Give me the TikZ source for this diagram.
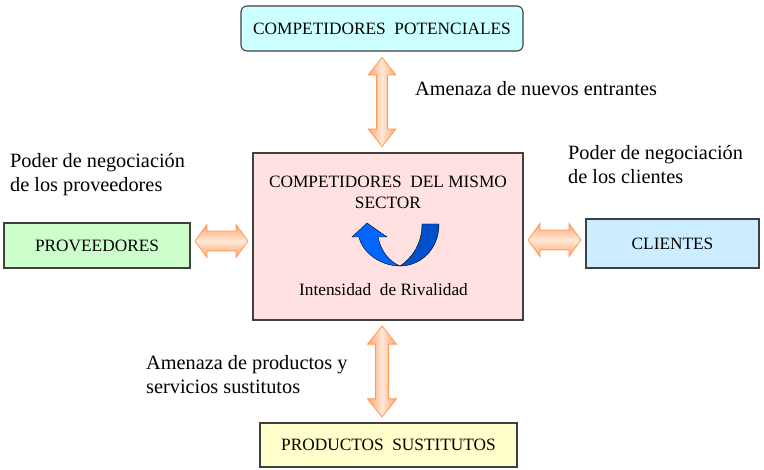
\documentclass[tikz,border=0pt]{standalone}
\usepackage{fontspec}
\setmainfont{Liberation Serif}
\usetikzlibrary{shapes.arrows, calc}
\definecolor{bxborde}{HTML}{404040}
\definecolor{bxcian}{HTML}{CCFFFF}
\definecolor{bxrosa}{HTML}{FFE1E1}
\definecolor{bxverde}{HTML}{CCFFCC}
\definecolor{bxazul}{HTML}{CCECFF}
\definecolor{bxamar}{HTML}{FFFFCC}
\definecolor{flnar}{HTML}{FFA46C}
\definecolor{flclaro}{HTML}{FFE8D8}
\definecolor{flborde}{HTML}{FF9955}
\definecolor{giro}{HTML}{0066FF}
\definecolor{girooscuro}{HTML}{0050CC}

\begin{document}
\begin{tikzpicture}[x=1pt, y=-1pt,
    caja/.style={draw=bxborde, line width=1.1pt, font=\fontsize{17.3}{21}\selectfont, align=center, inner sep=0pt},
    txt/.style={font=\fontsize{17.3}{21}\selectfont, align=center, inner sep=0pt},
    lbl/.style={font=\fontsize{20.3}{24}\selectfont, align=left, inner sep=0pt, anchor=west},
    dflecha/.style={double arrow, draw=flborde, line width=0.8pt, inner xsep=0pt, inner ysep=#1, minimum width=0pt},
    fh/.style={top color=flnar, bottom color=flnar, middle color=flclaro},
    fv/.style={left color=flnar, right color=flnar, middle color=flclaro}]
  \useasboundingbox (0,0) rectangle (764,470);

  % cajas
  \node[caja, fill=bxcian, rounded corners=6pt, minimum width=282pt, minimum height=45pt] (pot) at (382,28.5) {COMPETIDORES~ POTENCIALES};
  \node[caja, fill=bxrosa, minimum width=270pt, minimum height=167pt] (mid) at (388,236.5) {};
  \node[caja, fill=bxverde, minimum width=186pt, minimum height=45pt] (prov) at (97,245.5) {PROVEEDORES};
  \node[caja, fill=bxazul, minimum width=173pt, minimum height=49pt] (cli) at (672.5,243.5) {CLIENTES};
  \node[caja, fill=bxamar, minimum width=257pt, minimum height=44pt] (prod) at (388.5,445) {PRODUCTOS~ SUSTITUTOS};

  \node[txt] (sector) at (388,192.5) {COMPETIDORES~ DEL MISMO\\SECTOR};
  \node[txt] (riv) at (383.5,290) {Intensidad~ de Rivalidad};

  % flecha de rivalidad
  \draw[fill=giro, draw=black, line width=0.4pt] (400,266) .. controls (380,266) and (362,252) .. (359,237)
    -- (352,237) -- (367,223) -- (387,237) -- (378,237) .. controls (381,252) and (390,262) .. (400,266) -- cycle;
  \draw[fill=girooscuro, draw=black, line width=0.4pt] (422,224) -- (439,224) .. controls (439,250) and (420,266) .. (400,266)
    .. controls (412,258) and (422,244) .. (422,224) -- cycle;

  % flechas dobles
  \node[dflecha=5pt, fv, rotate=90, minimum height=89pt, double arrow head extend=8.5pt, double arrow tip angle=77] (fpot) at ($(pot.south)!0.5!(pot.south |- mid.north)$) {};
  \node[dflecha=6pt, fv, rotate=90, minimum height=91pt, double arrow head extend=8pt, double arrow tip angle=77] (fprod) at ($(pot.south |- mid.south)!0.5!(pot.south |- prod.north)$) {};
  \node[dflecha=9.5pt, fh, minimum height=53pt, double arrow head extend=6.5pt, double arrow tip angle=108] (fprov) at ($(prov.east)!0.5!(mid.west)$ |- prov) {};
  \node[dflecha=9.5pt, fh, minimum height=53pt, double arrow head extend=6.5pt, double arrow tip angle=108] (fcli) at ($(mid.east)!0.5!(cli.west)$ |- prov) {};

  % textos
  \node[lbl] (lnuevos) at (415,89) {Amenaza de nuevos entrantes};
  \node[lbl] (lprov) at (10,175) {Poder de negociación\\de los proveedores};
  \node[lbl] (lcli) at (568,164.5) {Poder de negociación\\de los clientes};
  \node[lbl] (lsust) at (146,374.5) {Amenaza de productos y\\servicios sustitutos};
\end{tikzpicture}
\end{document}
